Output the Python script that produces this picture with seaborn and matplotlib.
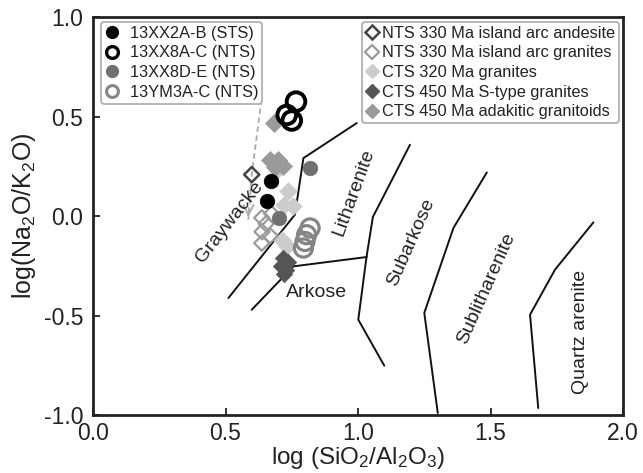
import numpy as np
import pandas as pd
import matplotlib
matplotlib.use("Agg")
import matplotlib.pyplot as plt
from matplotlib.lines import Line2D
import seaborn as sns

# ---------------- data ----------------
# Sample groups: log(SiO2/Al2O3), log(Na2O/K2O)
xx2_x = [0.670, 0.655]
xx2_y = [0.177, 0.077]

xx8ac_x = [0.766, 0.731, 0.750]
xx8ac_y = [0.575, 0.508, 0.480]

xx8de_x = [0.819, 0.702]
xx8de_y = [0.241, -0.010]

ym3_x = [0.819, 0.806, 0.800, 0.794]
ym3_y = [-0.060, -0.094, -0.128, -0.161]

andesite_x = [0.599]
andesite_y = [0.208]

arc_gr_x = [0.637, 0.674, 0.653, 0.638, 0.668, 0.637]
arc_gr_y = [-0.009, 0.012, -0.039, -0.079, -0.099, -0.136]

cts320_x = [0.737, 0.721, 0.756, 0.712, 0.731, 0.694]
cts320_y = [0.124, 0.057, 0.048, -0.119, -0.149, 0.233]

stype_x = [0.717, 0.736, 0.709, 0.728, 0.721]
stype_y = [-0.210, -0.230, -0.250, -0.270, -0.290]

adak_x = [0.683, 0.668, 0.698, 0.717, 0.687]
adak_y = [0.466, 0.283, 0.283, 0.253, 0.248]

# dashed evolution path (legend corner -> andesite -> arrow tip)
path_x = [0.636, 0.599, 0.586]
path_y = [0.585, 0.208, -0.019]

# classification boundaries
b1_x = [0.511, 0.762, 0.794, 0.995]
b1_y = [-0.412, 0.007, 0.291, 0.467]
b2_x = [0.599, 0.756, 1.033]
b2_y = [-0.471, -0.253, -0.206]
b3_x = [1.196, 1.056, 1.032, 1.001, 1.099]
b3_y = [0.358, -0.005, -0.206, -0.521, -0.752]
b4_x = [1.486, 1.360, 1.250, 1.301]
b4_y = [0.219, -0.060, -0.487, -0.990]
b5_x = [1.888, 1.743, 1.649, 1.680]
b5_y = [-0.032, -0.270, -0.496, -0.965]

field_names = ["Graywacke", "Litharenite", "Arkose", "Subarkose",
               "Sublitharenite", "Quartz arenite"]
field_x = [0.515, 0.985, 0.845, 1.200, 1.483, 1.838]
field_y = [-0.030, 0.120, -0.386, -0.130, -0.366, -0.584]
field_rot = [52, 70, 0, 66, 66, 90]

xticks = [0.0, 0.5, 1.0, 1.5, 2.0]
yticks = [-1.0, -0.5, 0.0, 0.5, 1.0]

# ---------------- style ----------------
sns.set_theme(style="white")
plt.rcParams["font.family"] = ["Liberation Sans", "DejaVu Sans"]
plt.rcParams["mathtext.default"] = "regular"

fig = plt.figure(figsize=(6.43, 4.73), dpi=100)
ax = fig.add_axes([0.1446, 0.1226, 0.8244, 0.8414])

# boundaries
for bx, by in [(b1_x, b1_y), (b2_x, b2_y), (b3_x, b3_y), (b4_x, b4_y), (b5_x, b5_y)]:
    sns.lineplot(x=bx, y=by, sort=False, estimator=None, color="#111111",
                 linewidth=1.4, ax=ax, zorder=2)

# dashed path and arrow
ax.plot(path_x, path_y, linestyle=(0, (3, 2)), color="#aaaaaa", lw=1.3, zorder=2)
ax.annotate("", xy=(path_x[-1], path_y[-1]), xytext=(path_x[-1] + 0.0005, path_y[-1] + 0.04),
            arrowprops=dict(arrowstyle="->", color="#aaaaaa", lw=1.3, mutation_scale=18),
            zorder=2)

def scat(x, y, marker, face, edge, size, lw):
    df = pd.DataFrame({"x": x, "y": y})
    sns.scatterplot(data=df, x="x", y="y", marker=marker, s=size, color=face,
                    edgecolor=edge, linewidth=lw, ax=ax, zorder=3, legend=False)

scat(cts320_x, cts320_y, "D", "#cccccc", "#cccccc", 80, 0.5)
scat(adak_x, adak_y, "D", "#9a9a9a", "#9a9a9a", 85, 0.5)
scat(stype_x, stype_y, "D", "#555555", "#555555", 70, 0.5)
scat(arc_gr_x, arc_gr_y, "D", "none", "#9a9a9a", 60, 1.6)
scat(andesite_x, andesite_y, "D", "none", "#444444", 60, 1.8)
scat(ym3_x, ym3_y, "o", "none", "#858585", 170, 2.3)
scat(xx8de_x, xx8de_y, "o", "#707070", "#707070", 110, 0.5)
scat(xx2_x, xx2_y, "o", "#000000", "#000000", 110, 0.5)
scat(xx8ac_x, xx8ac_y, "o", "none", "#000000", 180, 2.8)

# field names
for name, fx, fy, rot in zip(field_names, field_x, field_y, field_rot):
    ax.text(fx, fy, name, rotation=rot, ha="center", va="center",
            fontsize=14, color="#222222", rotation_mode="anchor")

# axes
ax.set_xlim(0, 2.0)
ax.set_ylim(-1.0, 1.0)
ax.set_xticks(xticks)
ax.set_yticks(yticks)
ax.set_xticklabels([f"{v:.1f}" for v in xticks])
ax.set_yticklabels([f"{v:.1f}" for v in yticks])
ax.tick_params(axis="both", direction="in", length=5, width=1.3, color="#222222",
               labelsize=16.5, labelcolor="#222222", pad=5)
ax.tick_params(axis="y", pad=7)
ax.tick_params(top=False, right=False, left=True, bottom=True)
for sp in ax.spines.values():
    sp.set_linewidth(2.0)
    sp.set_color("#222222")
ax.set_xlabel(r"log (SiO$_2$/Al$_2$O$_3$)", fontsize=17.5, color="#222222", labelpad=0)
ax.set_ylabel(r"log(Na$_2$O/K$_2$O)", fontsize=18, color="#222222", labelpad=4)

# legends
h1 = [
    Line2D([], [], ls="", marker="o", ms=8.5, mfc="#000000", mec="#000000"),
    Line2D([], [], ls="", marker="o", ms=8.5, mfc="none", mec="#000000", mew=2.4),
    Line2D([], [], ls="", marker="o", ms=8.5, mfc="#707070", mec="#707070"),
    Line2D([], [], ls="", marker="o", ms=8.5, mfc="none", mec="#858585", mew=2.2),
]
l1_labels = ["13XX2A-B (STS)", "13XX8A-C (NTS)", "13XX8D-E (NTS)", "13YM3A-C (NTS)"]
leg1 = ax.legend(h1, l1_labels, loc="upper left", bbox_to_anchor=(0.015, 0.988),
                 borderaxespad=0, fontsize=11.8, labelspacing=0.28, handletextpad=0.7,
                 handlelength=0.8, borderpad=0.25, frameon=True, fancybox=True,
                 edgecolor="#aaaaaa", framealpha=1)
leg1.get_frame().set_linewidth(1.2)
for t in leg1.get_texts():
    t.set_color("#222222")
ax.add_artist(leg1)

h2 = [
    Line2D([], [], ls="", marker="D", ms=7.5, mfc="none", mec="#444444", mew=1.8),
    Line2D([], [], ls="", marker="D", ms=7.5, mfc="none", mec="#9a9a9a", mew=1.6),
    Line2D([], [], ls="", marker="D", ms=7.5, mfc="#cccccc", mec="#cccccc"),
    Line2D([], [], ls="", marker="D", ms=7.5, mfc="#555555", mec="#555555"),
    Line2D([], [], ls="", marker="D", ms=7.5, mfc="#9a9a9a", mec="#9a9a9a"),
]
l2_labels = ["NTS 330 Ma island arc andesite", "NTS 330 Ma island arc granites",
             "CTS 320 Ma granites", "CTS 450 Ma S-type granites",
             "CTS 450 Ma adakitic granitoids"]
leg2 = ax.legend(h2, l2_labels, loc="upper right", bbox_to_anchor=(0.993, 0.988),
                 borderaxespad=0, fontsize=11.8, labelspacing=0.28, handletextpad=0.2,
                 handlelength=0.8, borderpad=0.25, frameon=True, fancybox=True,
                 edgecolor="#aaaaaa", framealpha=1)
leg2.get_frame().set_linewidth(1.2)
for t in leg2.get_texts():
    t.set_color("#222222")

fig.savefig("out.png", dpi=100)
